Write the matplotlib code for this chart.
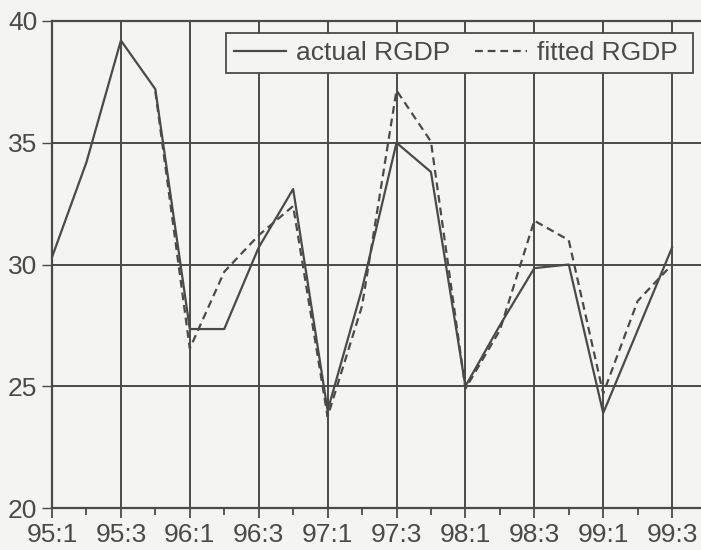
import matplotlib.pyplot as plt

plt.rcParams['font.family'] = ['Liberation Sans', 'DejaVu Sans']

# Quarterly real GDP growth, actual vs fitted (1995Q1 - 1999Q3)
quarters = ['95:1', '95:2', '95:3', '95:4', '96:1', '96:2', '96:3', '96:4',
            '97:1', '97:2', '97:3', '97:4', '98:1', '98:2', '98:3', '98:4',
            '99:1', '99:2', '99:3']
actual = [30.3, 34.2, 39.2, 37.2, 27.35, 27.35, 30.7, 33.1,
          24.0, 29.0, 35.0, 33.8, 25.0, 27.5, 29.85, 30.0,
          23.9, 27.3, 30.7]
# fitted series starts at 95:4
fitted_start = 3
fitted = [37.1, 26.55, 29.7, 31.2, 32.4,
          23.75, 28.3, 37.15, 35.05, 24.9, 27.3, 31.8, 31.0,
          24.7, 28.5, 30.0]

ink = '#4a4a4a'
paper = '#f4f4f2'

fig = plt.figure(figsize=(7.01, 5.50), dpi=100, facecolor=paper)
# axis runs to 99:4, a little past the right edge of the page
ax = fig.add_axes([52 / 701, 42 / 550, (19 * 34.45) / 701, 487 / 550])
ax.set_facecolor(paper)

x = list(range(len(quarters)))
ax.plot(x, actual, color=ink, lw=1.6, label='actual RGDP')
ax.plot(x[fitted_start:], fitted, color=ink, lw=1.6,
        linestyle=(0, (3.5, 2.2)), label='fitted RGDP ')

ax.set_xlim(0, 19)
ax.set_ylim(20, 40)
ax.set_xticks(x[::2])
ax.set_xticklabels(quarters[::2])
ax.set_xticks(range(20), minor=True)
ax.set_yticks([20, 25, 30, 35, 40])

ax.grid(True, which='major', color=ink, lw=1.4)
ax.tick_params(axis='x', which='major', direction='out', length=7, width=1.3,
               color=ink, labelsize=19, labelcolor=ink, pad=4)
ax.tick_params(axis='x', which='minor', direction='out', length=5, width=1.3,
               color=ink)
ax.tick_params(axis='y', direction='out', length=7, width=1.0,
               color=ink, labelsize=19, labelcolor=ink, pad=3.5)
for s in ax.spines.values():
    s.set_color(ink)
    s.set_linewidth(1.6)

leg = ax.legend(loc='upper right', bbox_to_anchor=(693 / 701, 1 - 33 / 550),
                bbox_transform=fig.transFigure, ncol=2, fontsize=19,
                frameon=True, fancybox=False, framealpha=1, borderaxespad=0,
                handlelength=1.95, handletextpad=0.4, columnspacing=0.95,
                borderpad=0.3)
leg.get_frame().set_edgecolor(ink)
leg.get_frame().set_linewidth(1.3)
leg.get_frame().set_facecolor(paper)
for t in leg.get_texts():
    t.set_color(ink)

fig.savefig('out.png', dpi=100, facecolor=paper)
